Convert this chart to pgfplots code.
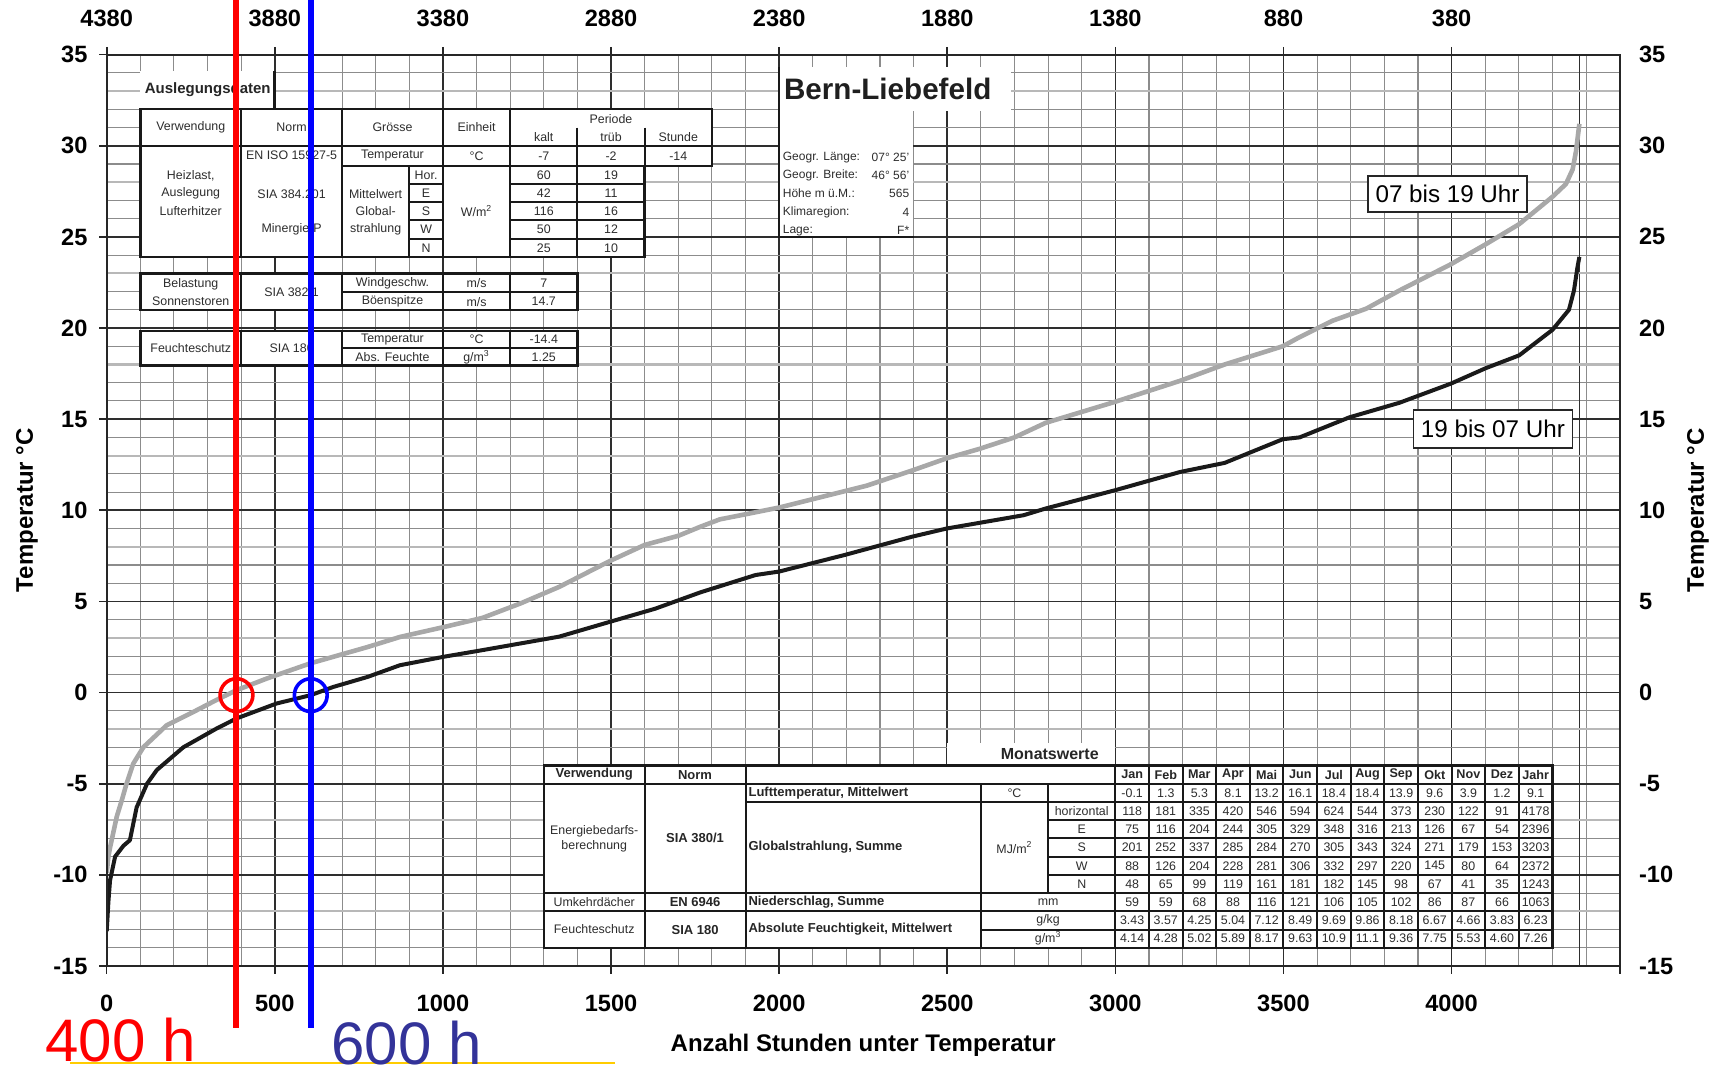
\documentclass[border=0pt]{standalone}
\usepackage{fontspec}
\setmainfont{Liberation Sans}
\usepackage{pgfplots}
\usepackage{pgfplotstable}
\pgfplotsset{compat=1.18}

\definecolor{tagkurve}{RGB}{168,168,168}
\definecolor{nachtkurve}{RGB}{26,26,26}
\definecolor{rot}{RGB}{255,0,0}
\definecolor{blau}{RGB}{0,0,255}
\definecolor{blautext}{RGB}{51,51,153}
\definecolor{gelb}{RGB}{255,204,0}
\definecolor{tabschrift}{RGB}{45,45,45}

\newcommand{\tk}{\fontsize{11.8}{13}\selectfont\bfseries}
\newcommand{\lab}{\fontsize{12}{14}\selectfont\bfseries}

% Stunden unter Temperatur, 07 bis 19 Uhr
\pgfplotstableread{
h t
0 -9.9
5 -9.0
10 -8.5
30 -6.8
45 -5.9
59 -5.0
79 -3.9
109 -3.0
178 -1.8
258 -1.06
327 -0.4
386 0.13
476 0.77
605 1.6
776 2.5
872 3.05
1004 3.6
1118 4.1
1232 4.9
1346 5.8
1500 7.25
1600 8.1
1700 8.6
1766 9.1
1823 9.5
2000 10.15
2262 11.36
2395 12.18
2498 12.85
2594 13.36
2700 14.0
2793 14.8
2999 15.95
3192 17.1
3325 18.0
3498 19.0
3548 19.5
3646 20.4
3746 21.06
3845 22.06
3998 23.5
4102 24.6
4201 25.7
4300 27.2
4340 27.9
4360 28.7
4370 29.7
4380 31.2
}\tagdata

% Stunden unter Temperatur, 19 bis 07 Uhr
\pgfplotstableread{
h t
0 -13.1
5 -11.5
10 -10.3
25 -9.0
50 -8.4
69 -8.1
89 -6.3
120 -5.0
149 -4.25
228 -3.0
327 -1.97
386 -1.42
505 -0.6
607 -0.14
674 0.31
776 0.86
872 1.5
1004 1.97
1118 2.33
1346 3.07
1500 3.9
1631 4.6
1766 5.5
1930 6.45
2000 6.64
2195 7.55
2395 8.55
2498 9.0
2727 9.73
2793 10.1
2999 11.1
3192 12.1
3325 12.6
3498 13.9
3548 14.0
3696 15.1
3845 15.9
3998 16.95
4102 17.8
4201 18.5
4300 19.9
4349 21.0
4364 22.06
4374 23.3
4380 23.9
}\nachtdata

\tikzset{
  tab/.style={black!90, line width=1pt},
  tt/.style={font=\fontsize{6.2}{7.4}\selectfont, text=tabschrift, inner sep=0pt},
  mt/.style={font=\fontsize{6.2}{7.4}\selectfont, text=tabschrift, inner sep=0pt},
  mb/.style={font=\fontsize{6.5}{7.4}\selectfont\bfseries, text=black!85, inner sep=0pt},
}
\newcommand{\mrow}[2]{\foreach \v [count=\i from 0] in {#2} {\node[mt] at ({3050+100*\i},#1) {\v};}}

\begin{document}
\begin{tikzpicture}
\begin{axis}[
  at={(0,0)}, anchor=south west,
  scale only axis, width=756.5pt, height=455.7pt,
  xmin=0, xmax=4500, ymin=-15, ymax=35,
  xtick={0,500,...,4500},
  xticklabels={0,500,1000,1500,2000,2500,3000,3500,4000,},
  ytick={-15,-10,...,35},
  minor xtick={0,100,...,4500},
  minor ytick={-15,-14,...,35},
  extra x ticks={4380}, extra x tick labels={},
  extra x tick style={grid=major, major tick length=0pt},
  grid=both,
  major grid style={black!82, line width=0.8pt},
  minor grid style={black!45, line width=0.55pt},
  axis line style={black!85, line width=1pt},
  xtick pos=left, ytick pos=left, tick align=outside,
  major tick length=3.8pt, minor tick length=0pt,
  tick style={black!85, line width=0.8pt},
  tick label style={font=\tk},
  /pgf/number format/assume math mode=true,
  /pgf/number format/1000 sep={},
  xticklabel style={anchor=north, inner sep=0pt, yshift=-10.3pt},
  yticklabel style={anchor=east, inner sep=0pt, xshift=-5.6pt},
  every axis x label/.style={at={(axis description cs:0.5,-0.0867)}, anchor=center, font=\lab},
  xlabel={Anzahl Stunden unter Temperatur},
  every axis y label/.style={at={(axis description cs:-0.0527,0.5)}, anchor=center, rotate=90, font=\lab},
  ylabel={Temperatur °C},
]
% hellere Rasterlinien des Vordrucks
\pgfplotsinvokeforeach{-12,-7,-2,3,8,13,18,23,28,33}{
  \draw[black!28, line width=1.1pt] (axis cs:0,#1) -- (axis cs:4500,#1);
}
\addplot[tagkurve, line width=2.3pt, line join=round] table[x=h, y=t] {\tagdata};
\addplot[nachtkurve, line width=2pt, line join=round] table[x=h, y=t] {\nachtdata};
\end{axis}

% Tabellen und Beschriftungen im Diagramm (Koordinaten wie axis cs)
\begin{scope}[x=0.1681111pt, y=9.114pt, yshift=136.71pt]
  % Auslegungsdaten
  \fill[white] (100,23.9) rectangle (1600,32);
  \fill[white] (1600,28.9) rectangle (1800,32);
  \fill[white] (100,32) rectangle (500,34.1);
  \node[anchor=west, inner sep=0pt, font=\fontsize{7.5}{9}\selectfont\bfseries, text=black!85] at (112,33.1) {Auslegungsdaten};
  \draw[black!90, line width=1.6pt] (500,32) -- (500,34.1);
  \draw[tab, line width=1.2pt] (100,32) -- (1800,32) -- (1800,28.9) -- (1600,28.9) -- (1600,23.9) -- (100,23.9) -- cycle;
  \draw[tab] (100,30) -- (1800,30);
  \draw[tab] (700,28.9) -- (1600,28.9);
  \foreach \x in {400,700,1000,1200} \draw[tab] (\x,32) -- (\x,23.9);
  \draw[tab] (1400,31) -- (1400,23.9);
  \draw[tab] (1600,31) -- (1600,28.9);
  \draw[tab] (900,28.9) -- (900,23.9);
  \foreach \y in {27.9,26.9,25.9,24.9} {
    \draw[tab] (900,\y) -- (1000,\y);
    \draw[tab] (1200,\y) -- (1600,\y);
  }
  \node[tt] at (250,31) {Verwendung};
  \node[tt] at (550,31) {Norm};
  \node[tt] at (850,31) {Grösse};
  \node[tt] at (1100,31) {Einheit};
  \node[tt] at (1500,31.45) {Periode};
  \node[tt] at (1300,30.45) {kalt};
  \node[tt] at (1500,30.45) {trüb};
  \node[tt] at (1700,30.45) {Stunde};
  \node[tt] at (850,29.45) {Temperatur};
  \node[tt] at (1100,29.45) {°C};
  \node[tt] at (1300,29.45) {-7};
  \node[tt] at (1500,29.45) {-2};
  \node[tt] at (1700,29.45) {-14};
  \node[tt] at (550,29.5) {EN ISO 15927-5};
  \node[tt] at (550,27.36) {SIA 384.201};
  \node[tt] at (550,25.39) {Minergie-P};
  \node[tt] at (250,28.37) {Heizlast,};
  \node[tt] at (250,27.4) {Auslegung};
  \node[tt] at (250,26.41) {Lufterhitzer};
  \node[tt] at (800,27.36) {Mittelwert};
  \node[tt] at (800,26.4) {Global-};
  \node[tt] at (800,25.39) {strahlung};
  \node[tt] at (1100,26.4) {W/m\textsuperscript{2}};
  \foreach \s [count=\i from 0] in {Hor.,E,S,W,N} \node[tt] at (950,{28.4-\i}) {\s};
  \foreach \s [count=\i from 0] in {60,42,116,50,25} \node[tt] at (1300,{28.4-\i}) {\s};
  \foreach \s [count=\i from 0] in {19,11,16,12,10} \node[tt] at (1500,{28.4-\i}) {\s};

  % Belastung Sonnenstoren
  \fill[white] (100,21) rectangle (1400,23);
  \draw[tab, line width=1.2pt] (100,21) rectangle (1400,23);
  \foreach \x in {400,700,1000,1200} \draw[tab] (\x,21) -- (\x,23);
  \draw[tab] (700,21.95) -- (1400,21.95);
  \node[tt] at (250,22.4) {Belastung};
  \node[tt] at (250,21.45) {Sonnenstoren};
  \node[tt] at (550,21.95) {SIA 382/1};
  \node[tt] at (850,22.45) {Windgeschw.};
  \node[tt] at (850,21.45) {Böenspitze};
  \node[tt] at (1100,22.45) {m/s};
  \node[tt] at (1100,21.45) {m/s};
  \node[tt] at (1300,22.45) {7};
  \node[tt] at (1300,21.45) {14.7};

  % Feuchteschutz
  \fill[white] (100,17.95) rectangle (1400,19.85);
  \draw[tab, line width=1.2pt] (100,17.95) rectangle (1400,19.85);
  \foreach \x in {400,700,1000,1200} \draw[tab] (\x,17.95) -- (\x,19.85);
  \draw[tab] (700,18.9) -- (1400,18.9);
  \node[tt] at (250,18.9) {Feuchteschutz};
  \node[tt] at (550,18.9) {SIA 180};
  \node[tt] at (850,19.37) {Temperatur};
  \node[tt] at (850,18.42) {Abs. Feuchte};
  \node[tt] at (1100,19.37) {°C};
  \node[tt] at (1100,18.42) {g/m\textsuperscript{3}};
  \node[tt] at (1300,19.37) {-14.4};
  \node[tt] at (1300,18.42) {1.25};

  % Station
  \fill[white] (2000,31.93) rectangle (2690,34.3);
  \fill[white] (2000,25) rectangle (2397,31.93);
  \draw[black!90, line width=1.3pt] (2000,34.3) -- (2000,25) -- (2400,25);
  \node[inner sep=0pt, font=\fontsize{14.8}{16}\selectfont\bfseries, text=black!88] at (2323,33.13) {Bern-Liebefeld};
  \foreach \s/\w [count=\i from 0] in {Geogr. Länge:/07° 25',Geogr. Breite:/46° 56',Höhe m ü.M.:/565,Klimaregion:/4,Lage:/F*} {
    \node[tt, font=\fontsize{6}{7}\selectfont, anchor=west] at (2010,{29.37-\i}) {\s};
    \node[tt, font=\fontsize{6}{7}\selectfont, anchor=east] at (2388,{29.37-\i}) {\w};
  }

  % Monatswerte
  \fill[white] (2500,-2.75) rectangle (3000,-4);
  \node[inner sep=0pt, font=\fontsize{8}{9}\selectfont\bfseries, text=black!85] at (2805,-3.38) {Monatswerte};
  \fill[white] (1300,-14) rectangle (4300,-4);
  \draw[tab, line width=1.2pt] (1300,-4) rectangle (4300,-14);
  \foreach \y in {-5,-11,-12} \draw[tab] (1300,\y) -- (4300,\y);
  \draw[tab] (1900,-6) -- (4300,-6);
  \foreach \y in {-7,-8,-9,-10} \draw[tab] (2800,\y) -- (4300,\y);
  \draw[tab] (2600,-13) -- (4300,-13);
  \foreach \x in {1600,1900} \draw[tab] (\x,-4) -- (\x,-14);
  \foreach \x in {3000,3100,...,4200} \draw[tab] (\x,-4) -- (\x,-14);
  \draw[tab] (2600,-5) -- (2600,-14);
  \draw[tab] (2800,-5) -- (2800,-11);
  \node[mb] at (1450,-4.5) {Verwendung};
  \node[mb] at (1750,-4.5) {Norm};
  \foreach \m [count=\i from 0] in {Jan,Feb,Mar,Apr,Mai,Jun,Jul,Aug,Sep,Okt,Nov,Dez,Jahr}
    \node[mb, font=\fontsize{6.3}{7}\selectfont\bfseries] at ({3050+100*\i},-4.5) {\m};
  \node[mt, align=center] at (1450,-8) {Energiebedarfs-\\berechnung};
  \node[mb] at (1750,-8) {SIA 380/1};
  \node[mt] at (1450,-11.5) {Umkehrdächer};
  \node[mb] at (1750,-11.5) {EN 6946};
  \node[mt] at (1450,-13) {Feuchteschutz};
  \node[mb] at (1750,-13) {SIA 180};
  \node[mb, anchor=west] at (1908,-5.5) {Lufttemperatur, Mittelwert};
  \node[mb, anchor=west] at (1908,-8.5) {Globalstrahlung, Summe};
  \node[mb, anchor=west] at (1908,-11.5) {Niederschlag, Summe};
  \node[mb, anchor=west] at (1908,-13) {Absolute Feuchtigkeit, Mittelwert};
  \node[mt] at (2700,-5.5) {°C};
  \node[mt] at (2700,-8.5) {MJ/m\textsuperscript{2}};
  \foreach \s [count=\i from 0] in {horizontal,E,S,W,N} \node[mt] at (2900,{-6.5-\i}) {\s};
  \node[mt] at (2800,-11.5) {mm};
  \node[mt] at (2800,-12.5) {g/kg};
  \node[mt] at (2800,-13.5) {g/m\textsuperscript{3}};
  \mrow{-5.5}{-0.1,1.3,5.3,8.1,13.2,16.1,18.4,18.4,13.9,9.6,3.9,1.2,9.1}
  \mrow{-6.5}{118,181,335,420,546,594,624,544,373,230,122,91,4178}
  \mrow{-7.5}{75,116,204,244,305,329,348,316,213,126,67,54,2396}
  \mrow{-8.5}{201,252,337,285,284,270,305,343,324,271,179,153,3203}
  \mrow{-9.5}{88,126,204,228,281,306,332,297,220,145,80,64,2372}
  \mrow{-10.5}{48,65,99,119,161,181,182,145,98,67,41,35,1243}
  \mrow{-11.5}{59,59,68,88,116,121,106,105,102,86,87,66,1063}
  \mrow{-12.5}{3.43,3.57,4.25,5.04,7.12,8.49,9.69,9.86,8.18,6.67,4.66,3.83,6.23}
  \mrow{-13.5}{4.14,4.28,5.02,5.89,8.17,9.63,10.9,11.1,9.36,7.75,5.53,4.60,7.26}

  % Kurvenbeschriftungen
  \node[draw=black!85, line width=0.75pt, fill=white, font=\fontsize{12.1}{14}\selectfont,
        inner xsep=3.75pt, inner ysep=0pt, minimum height=18pt] at (3988,27.34) {07 bis 19 Uhr};
  \node[draw=black!85, line width=0.75pt, fill=white, font=\fontsize{12.1}{14}\selectfont,
        inner xsep=3.75pt, inner ysep=0pt, minimum height=19pt] at (4123,14.45) {19 bis 07 Uhr};
\end{scope}

\begin{axis}[
  at={(0,0)}, anchor=south west,
  scale only axis, width=756.5pt, height=455.7pt,
  xmin=0, xmax=4500, ymin=-15, ymax=35,
  xtick={0,500,...,4000},
  xticklabels={4380,3880,3380,2880,2380,1880,1380,880,380},
  ytick={-15,-10,...,35},
  xtick pos=right, ytick pos=right, xticklabel pos=right, yticklabel pos=right,
  tick align=outside, major tick length=3.8pt,
  ytick style={draw=none},
  tick style={black!85, line width=0.8pt},
  axis line style={black!85, line width=1pt},
  clip=false,
  tick label style={font=\tk},
  /pgf/number format/assume math mode=true,
  /pgf/number format/1000 sep={},
  xticklabel style={anchor=south, inner sep=0pt, yshift=10.1pt},
  yticklabel style={anchor=west, inner sep=0pt, xshift=5.7pt},
  every axis y label/.style={at={(axis description cs:1.0518,0.5)}, anchor=center, rotate=90, font=\lab},
  ylabel={Temperatur °C},
]
\addplot[rot, line width=3pt] coordinates {(386,37.99) (386,-18.4)};
\addplot[blau, line width=3pt] coordinates {(607,37.99) (607,-18.4)};
\addplot[only marks, mark=o, mark size=8.2pt, mark options={draw=rot, line width=1.8pt}] coordinates {(386,-0.14)};
\addplot[only marks, mark=o, mark size=8.2pt, mark options={draw=blau, line width=1.8pt}] coordinates {(607,-0.14)};
\end{axis}

\draw[gelb, line width=1pt] (-18.35pt,-48.5pt) -- (254.15pt,-48.5pt);
\node[anchor=base west, inner sep=0pt, text=rot, font=\fontsize{30}{30}\selectfont] at (-30.85pt,-47.8pt) {400 h};
\node[anchor=base west, inner sep=0pt, text=blautext, font=\fontsize{30}{30}\selectfont] at (112.15pt,-49.2pt) {600 h};

\pgfresetboundingbox
\path[use as bounding box] (-53.35pt,-52pt) rectangle (802.15pt,483pt);
\end{tikzpicture}
\end{document}
